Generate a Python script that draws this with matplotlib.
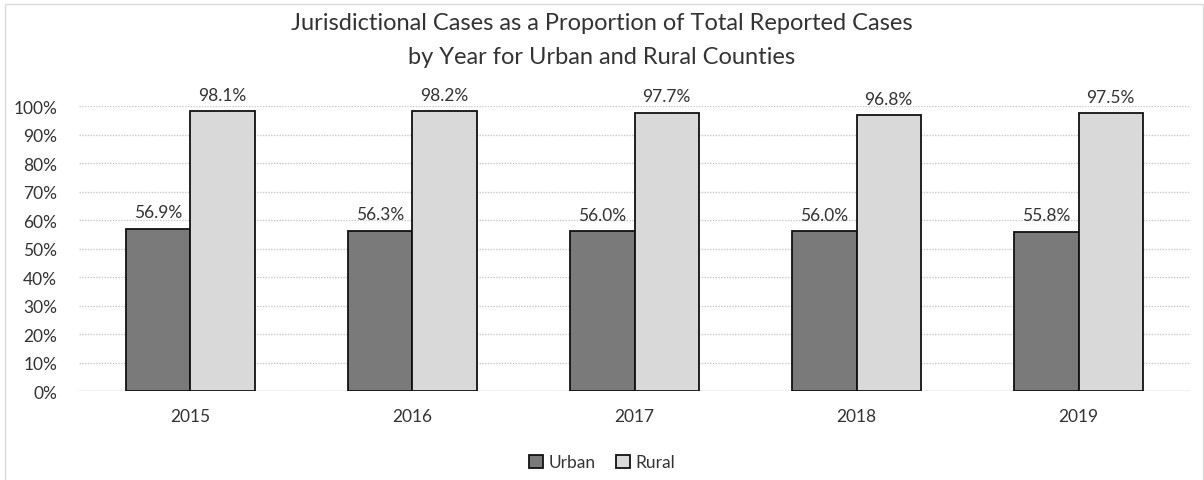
import matplotlib
matplotlib.use("Agg")
import matplotlib.pyplot as plt
import numpy as np
from matplotlib.patches import Rectangle

years = ["2015", "2016", "2017", "2018", "2019"]
urban = [56.9, 56.3, 56.0, 56.0, 55.8]
rural = [98.1, 98.2, 97.7, 96.8, 97.5]
yticks = list(range(0, 101, 10))

plt.rcParams['font.family'] = ['Lato', 'DejaVu Sans']

fig = plt.figure(figsize=(12.04, 4.81), dpi=100)
ax = fig.add_axes([0.066, 0.185, 0.922, 0.5925])

x = np.arange(len(years))
w = 0.29
ax.bar(x - w/2, urban, w, color="#7a7a7a", edgecolor="#111111", linewidth=1.3, label="Urban", zorder=3)
ax.bar(x + w/2, rural, w, color="#d9d9d9", edgecolor="#111111", linewidth=1.3, label="Rural", zorder=3)

for xi, u, r in zip(x, urban, rural):
    ax.text(xi - w/2, u + 3.0, f"{u:.1f}%", ha="center", va="bottom", fontsize=12.5, color="#333333")
    ax.text(xi + w/2, r + 3.0, f"{r:.1f}%", ha="center", va="bottom", fontsize=12.5, color="#333333")

ax.set_xlim(-0.5, len(years) - 0.5)
ax.set_ylim(0, 100)
ax.set_yticks(yticks)
ax.set_yticklabels([f"{t}%" for t in yticks], fontsize=12.5, color="#333333")
ax.set_xticks(x)
ax.set_xticklabels(years, fontsize=12.5, color="#333333")
ax.tick_params(axis="both", length=0)
ax.tick_params(axis="x", pad=12)
ax.tick_params(axis="y", pad=16)
ax.grid(axis="y", color="#c8c8c8", linestyle=(0, (1, 1)), linewidth=1, zorder=0)
for s in ax.spines.values():
    s.set_visible(False)
ax.axhline(0, color="#c8c8c8", linewidth=1, zorder=1)

fig.text(0.5, 0.952, "Jurisdictional Cases as a Proportion of Total Reported Cases",
         ha="center", va="center", fontsize=17, color="#333333")
fig.text(0.5, 0.88, "by Year for Urban and Rural Counties",
         ha="center", va="center", fontsize=17, color="#333333")

leg = fig.legend(loc="center", bbox_to_anchor=(0.5, 0.037), ncol=2, frameon=False,
                 fontsize=12.5, handlelength=0.8, handleheight=0.8, handletextpad=0.3,
                 columnspacing=1.2)
for t in leg.get_texts():
    t.set_color("#333333")

fig.patches.append(Rectangle((0.004, -0.01), 0.995, 1.0, transform=fig.transFigure,
                             fill=False, edgecolor="#d9d9d9", linewidth=1))

fig.savefig("out.png", dpi=100)
